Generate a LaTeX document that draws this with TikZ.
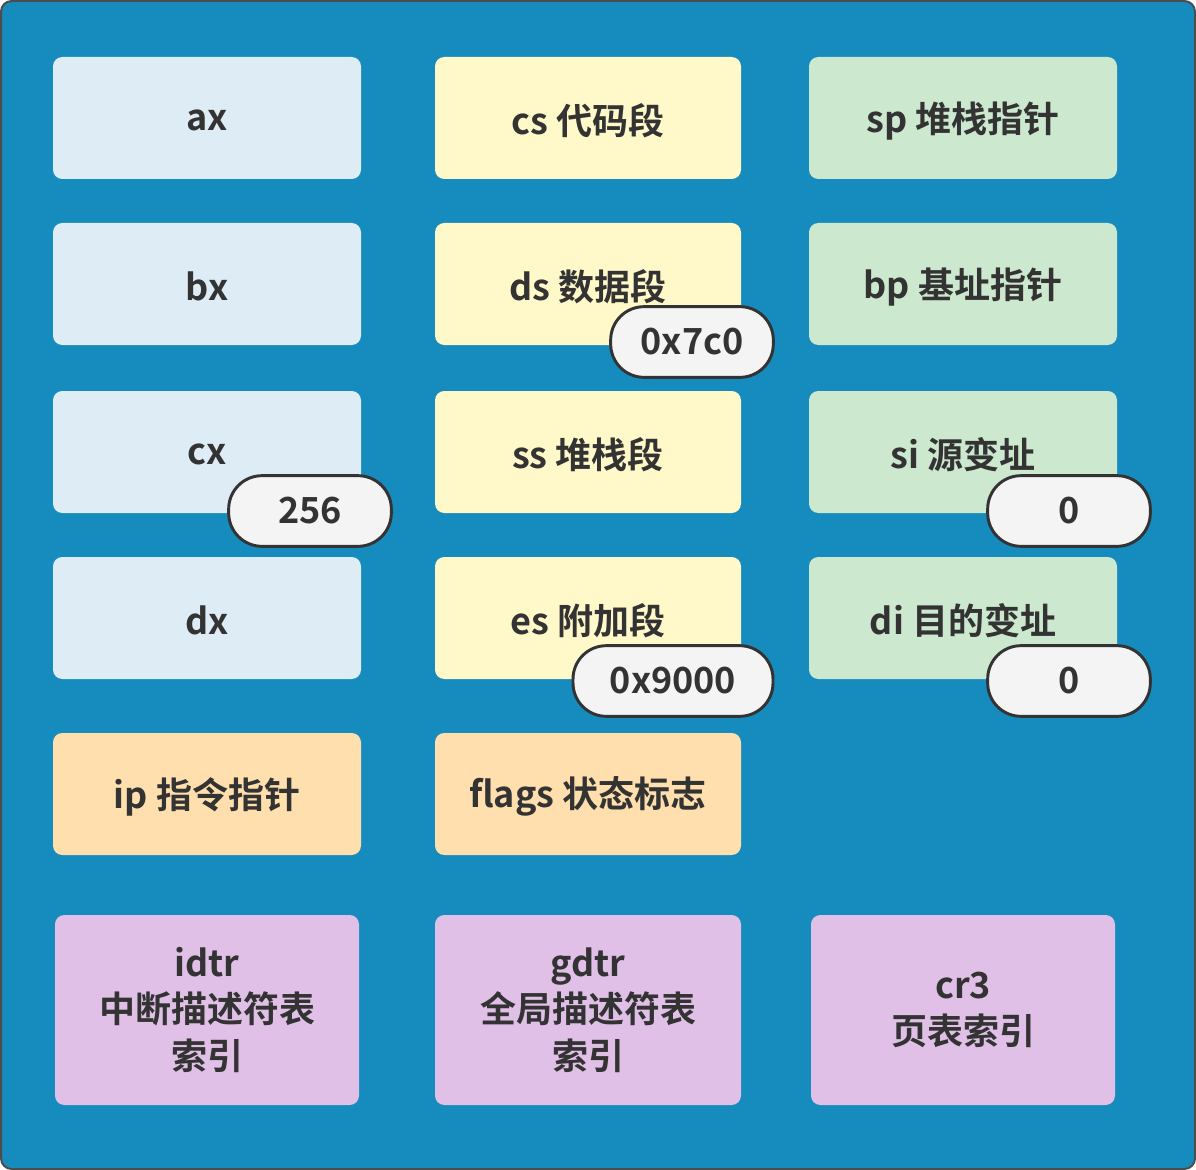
\documentclass[tikz,border=0pt]{standalone}
\usepackage{fontspec}
\setmainfont{Noto Sans CJK SC}[BoldFont={* Bold}]
\newfontfamily\cjkb{Noto Sans CJK SC Bold}
\begin{document}
\begin{tikzpicture}[x=0.75pt,y=-0.75pt,
  reg/.style={rounded corners=7pt,draw=none,inner sep=0pt,font=\cjkb\fontsize{27}{35}\selectfont,text=black!80,align=center},
  gen/.style={reg,fill=genc},
  seg/.style={reg,fill=segc},
  ptr/.style={reg,fill=ptrc},
  ctl/.style={reg,fill=ctlc},
  sys/.style={reg,fill=sysc},
  lbl/.style={midway,yshift=-2pt},
  pill/.style={draw=black!80,line width=2.2pt,fill=pillc,rounded corners=25pt,inner sep=0pt,font=\cjkb\fontsize{27}{30}\selectfont,text=black!80},
]
\definecolor{bgc}{HTML}{168BBD}
\definecolor{genc}{HTML}{DEEDF5}
\definecolor{segc}{HTML}{FFF9CA}
\definecolor{ptrc}{HTML}{CCE8CE}
\definecolor{ctlc}{HTML}{FFDFAD}
\definecolor{sysc}{HTML}{E1C0E8}
\definecolor{pillc}{HTML}{F4F4F4}
\useasboundingbox (0,0) rectangle (1196,1170);
\path[fill=bgc,draw=black!70,line width=1.5pt,rounded corners=8pt] (1,1) rectangle (1195,1169);
% column 1
\path[gen] (53,57) rectangle (361,179) node[lbl] (axt) {ax};
\path[gen] (53,223) rectangle (361,345) node[lbl] (bxt) {bx};
\path[gen] (53,391) rectangle (361,513) node[lbl] (cxt) {cx};
\path[gen] (53,557) rectangle (361,679) node[lbl] (dxt) {dx};
\path[ctl] (53,733) rectangle (361,855) node[lbl] (ipt) {ip 指令指针};
\path[sys] (55,915) rectangle (359,1105) node[midway] (idtr) {idtr\\中断描述符表\\索引};
% column 2
\path[seg] (435,57) rectangle (741,179) node[lbl] (cst) {cs 代码段};
\path[seg] (435,223) rectangle (741,345) node[lbl] (dst) {ds 数据段};
\path[seg] (435,391) rectangle (741,513) node[lbl] (sst) {ss 堆栈段};
\path[seg] (435,557) rectangle (741,679) node[lbl] (est) {es 附加段};
\path[ctl] (435,733) rectangle (741,855) node[lbl] (flt) {flags 状态标志};
\path[sys] (435,915) rectangle (741,1105) node[midway] (gdtr) {gdtr\\全局描述符表\\索引};
% column 3
\path[ptr] (809,57) rectangle (1117,179) node[lbl] (spt) {sp 堆栈指针};
\path[ptr] (809,223) rectangle (1117,345) node[lbl] (bpt) {bp 基址指针};
\path[ptr] (809,391) rectangle (1117,513) node[lbl] (sit) {si 源变址};
\path[ptr] (809,557) rectangle (1117,679) node[lbl] (dit) {di 目的变址};
\path[sys] (811,915) rectangle (1115,1105) node[midway] (cr3) {cr3\\页表索引};
% value pills
\node[pill,minimum width=122pt,minimum height=53pt] (v7c0) at (692,342) {0x7c0};
\node[pill,minimum width=122pt,minimum height=53pt] (v256) at (310,511) {256};
\node[pill,minimum width=122pt,minimum height=53pt] (vsi) at (1069,511) {0};
\node[pill,minimum width=150pt,minimum height=53pt] (v9000) at (673,681) {0x9000};
\node[pill,minimum width=122pt,minimum height=53pt] (vdi) at (1069,681) {0};
\end{tikzpicture}
\end{document}
